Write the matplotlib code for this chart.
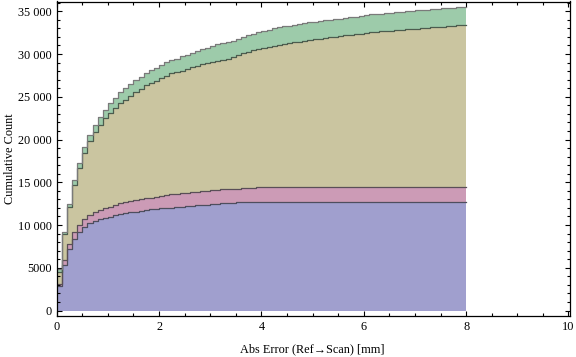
import numpy as np
import matplotlib
matplotlib.use("Agg")
import matplotlib.pyplot as plt
from matplotlib.ticker import MultipleLocator, FuncFormatter

# ---- data: stacked cumulative counts per 0.1 mm bin (0 .. 8 mm) ----
bin_width = 0.1
n_bins = 80

# top of layer 1 (blue)
layer1_top = [2850, 5350, 7150, 8350, 9200, 9750, 10250, 10500, 10650, 10800,
              10970, 11150, 11290, 11400, 11480, 11580, 11660, 11740, 11820, 11890,
              11940, 11990, 12030, 12070, 12140, 12180, 12260, 12300, 12340, 12380,
              12460, 12500, 12540, 12580, 12620, 12650, 12660, 12670, 12680, 12690,
              12690, 12690, 12690, 12690, 12690, 12690, 12690, 12690, 12690, 12690,
              12690, 12690, 12690, 12690, 12690, 12690, 12690, 12690, 12690, 12690,
              12690, 12690, 12690, 12690, 12690, 12690, 12690, 12690, 12690, 12690,
              12690, 12690, 12690, 12690, 12690, 12690, 12690, 12690, 12690, 12690]

# top of layer 2 (pink)
layer2_top = [3100, 5900, 7780, 9150, 10000, 10670, 11200, 11500, 11750, 11950,
              12140, 12340, 12540, 12650, 12770, 12920, 13040, 13120, 13200, 13310,
              13430, 13510, 13590, 13650, 13710, 13760, 13820, 13900, 13950, 14000,
              14090, 14130, 14170, 14200, 14230, 14260, 14290, 14320, 14350, 14400,
              14410, 14420, 14430, 14440, 14440, 14440, 14440, 14440, 14440, 14440,
              14440, 14440, 14440, 14440, 14440, 14440, 14440, 14440, 14440, 14440,
              14440, 14440, 14440, 14440, 14440, 14440, 14440, 14440, 14440, 14440,
              14440, 14440, 14440, 14440, 14440, 14440, 14440, 14440, 14440, 14440]

# top of layer 3 (tan)
layer3_top = [4550, 9000, 12150, 14700, 16620, 18370, 19770, 20860, 21700, 22480,
              23140, 23650, 24230, 24650, 25120, 25500, 25930, 26320, 26620, 26900,
              27160, 27480, 27740, 27890, 28050, 28250, 28440, 28600, 28790, 28910,
              29030, 29150, 29260, 29420, 29610, 29880, 30080, 30230, 30420, 30585,
              30702, 30819, 30936, 31053, 31170, 31287, 31365, 31443, 31560, 31637,
              31715, 31793, 31871, 31949, 32027, 32105, 32183, 32261, 32339, 32378,
              32456, 32534, 32573, 32651, 32690, 32729, 32807, 32846, 32885, 32924,
              32963, 33002, 33041, 33119, 33158, 33197, 33236, 33314, 33353, 33380]

# top of layer 4 (green)
layer4_top = [4800, 9200, 12400, 15250, 17300, 19150, 20550, 21650, 22600, 23450,
              24230, 24850, 25560, 25990, 26450, 26930, 27330, 27720, 28100, 28420,
              28760, 29010, 29280, 29470, 29720, 29920, 30160, 30360, 30560, 30680,
              30940, 31120, 31250, 31390, 31570, 31800, 31990, 32180, 32360, 32520,
              32690, 32846, 33002, 33120, 33236, 33314, 33431, 33509, 33587, 33704,
              33782, 33860, 33938, 33977, 34055, 34133, 34211, 34289, 34370, 34460,
              34561, 34639, 34678, 34717, 34756, 34795, 34873, 34951, 35029, 35068,
              35107, 35146, 35185, 35224, 35302, 35341, 35400, 35419, 35458, 35480]

x_label = "Abs Error (Ref\u2192Scan) [mm]"
y_label = "Cumulative Count"

fill_colors = ["#A09FCE", "#CC9BB6", "#CAC5A0", "#9DCBAA"]
edge_colors = ["#4E4E5E", "#5A4F57", "#4C5C4E", "#7A7A7A"]

# ---- figure ----
plt.rcParams['font.family'] = ['Liberation Serif', 'DejaVu Serif']
fig = plt.figure(figsize=(5.76, 3.57), dpi=100)
W, H = 576, 357
left_px, right_px, top_px, bottom_px = 56.7, 570.0, 1.5, 316.0
ax = fig.add_axes([left_px / W, 1 - bottom_px / H,
                   (right_px - left_px) / W, (bottom_px - top_px) / H])

edges = np.arange(n_bins + 1) * bin_width
tops = [np.asarray(t, dtype=float) for t in (layer1_top, layer2_top, layer3_top, layer4_top)]
lower = np.zeros(n_bins)
for top, fc in zip(tops, fill_colors):
    ax.fill_between(edges, np.append(lower, lower[-1]), np.append(top, top[-1]),
                    step='post', facecolor=fc, edgecolor='none', linewidth=0)
    lower = top
for top, ec in zip(tops, edge_colors):
    ax.step(edges, np.append(top, top[-1]), where='post', color=ec, linewidth=0.9)

ax.set_xlim(0, 10.03)
ax.set_ylim(-640, 36140)

ax.xaxis.set_major_locator(MultipleLocator(2))
ax.xaxis.set_minor_locator(MultipleLocator(0.5))
ax.yaxis.set_major_locator(MultipleLocator(5000))
ax.yaxis.set_minor_locator(MultipleLocator(1000))

def yfmt(v, pos):
    v = int(round(v))
    s = str(v)
    if v >= 10000:
        s = s[:-3] + " " + s[-3:]
    return s
ax.yaxis.set_major_formatter(FuncFormatter(yfmt))
ax.xaxis.set_major_formatter(FuncFormatter(lambda v, p: str(int(round(v)))))

ax.tick_params(which='both', direction='in', top=True, right=True,
               labelsize=8.8, colors='black', width=0.8)
ax.tick_params(which='major', length=3.4)
ax.tick_params(which='minor', length=1.9)
ax.tick_params(axis='y', pad=3.3)
ax.tick_params(axis='x', pad=3.6)
for s in ax.spines.values():
    s.set_linewidth(0.9)
    s.set_color('black')

fig.text(312.5 / W, (H - 352.5) / H, x_label, ha='center', va='baseline', fontsize=8.8)
fig.text(13.0 / W, 1 - 158.7 / H, y_label, rotation=90, rotation_mode='anchor',
         ha='center', va='baseline', fontsize=8.8)

fig.savefig("out.png", dpi=100)
